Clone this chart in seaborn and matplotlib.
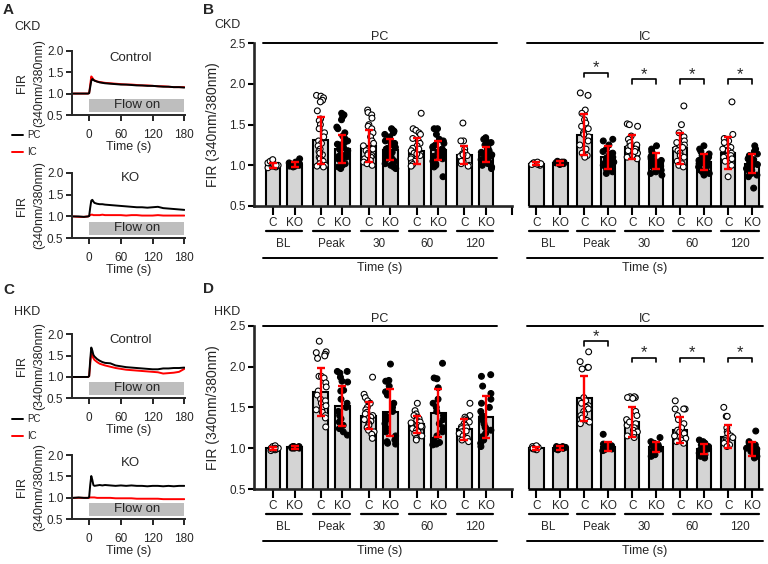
import numpy as np
import pandas as pd
import seaborn as sns
import matplotlib.pyplot as plt
import matplotlib.transforms as mtransforms
from matplotlib.lines import Line2D

sns.set_theme(style="ticks")
plt.rcParams['font.family'] = ['Liberation Sans', 'DejaVu Sans']

# ---------------- traces (A, C) ----------------
t_sec = [-30, -20, -10, -2, 0, 2, 4, 6, 8, 10, 15, 20, 25, 30, 40, 50, 60,
         70, 80, 90, 100, 110, 120, 130, 140, 150, 160, 170, 180]
ckd_ctrl_pc = [1.00, 1.00, 1.00, 1.00, 1.01, 1.15, 1.30, 1.34, 1.32, 1.30, 1.28, 1.26, 1.25, 1.24, 1.23,
               1.22, 1.21, 1.21, 1.20, 1.19, 1.19, 1.18, 1.18, 1.17, 1.16, 1.16, 1.15, 1.15, 1.14]
ckd_ctrl_ic = [1.00, 1.00, 1.00, 1.00, 1.01, 1.20, 1.40, 1.37, 1.33, 1.31, 1.28, 1.27, 1.26, 1.25, 1.24,
               1.23, 1.22, 1.21, 1.21, 1.20, 1.19, 1.19, 1.18, 1.17, 1.17, 1.16, 1.15, 1.15, 1.15]
ckd_ko_pc = [1.00, 1.00, 0.99, 1.00, 1.01, 1.20, 1.36, 1.38, 1.34, 1.31, 1.29, 1.28, 1.28, 1.27, 1.26,
             1.25, 1.24, 1.23, 1.22, 1.21, 1.21, 1.20, 1.21, 1.22, 1.19, 1.18, 1.17, 1.16, 1.15]
ckd_ko_ic = [1.00, 0.99, 0.99, 1.00, 1.01, 1.03, 1.04, 1.04, 1.03, 1.03, 1.03, 1.03, 1.04, 1.03, 1.03,
             1.03, 1.03, 1.02, 1.03, 1.03, 1.02, 1.02, 1.02, 1.03, 1.02, 1.02, 1.02, 1.02, 1.02]
hkd_ctrl_pc = [1.00, 1.00, 1.00, 1.00, 1.02, 1.40, 1.69, 1.62, 1.52, 1.48, 1.42, 1.38, 1.35, 1.33, 1.32,
               1.27, 1.25, 1.23, 1.22, 1.21, 1.20, 1.19, 1.18, 1.18, 1.20, 1.20, 1.21, 1.21, 1.22]
hkd_ctrl_ic = [1.00, 1.00, 1.00, 1.00, 1.02, 1.30, 1.56, 1.50, 1.44, 1.40, 1.35, 1.31, 1.29, 1.27, 1.24,
               1.21, 1.19, 1.17, 1.16, 1.15, 1.14, 1.13, 1.12, 1.11, 1.08, 1.09, 1.10, 1.12, 1.19]
hkd_ko_pc = [1.00, 1.01, 1.00, 1.00, 1.02, 1.30, 1.51, 1.42, 1.30, 1.28, 1.29, 1.30, 1.29, 1.30, 1.29,
             1.28, 1.29, 1.28, 1.29, 1.28, 1.28, 1.27, 1.28, 1.28, 1.27, 1.28, 1.27, 1.28, 1.28]
hkd_ko_ic = [1.00, 1.00, 1.00, 1.00, 1.00, 1.01, 1.01, 1.01, 1.01, 1.01, 1.00, 1.00, 1.00, 1.00, 1.00,
             0.99, 0.99, 0.99, 0.99, 0.98, 0.98, 0.98, 0.98, 0.98, 0.97, 0.97, 0.97, 0.97, 0.97]
flow_on = [0, 180]
flow_box = [0.58, 0.88]

# ---------------- bars (B, D) ----------------
time_groups = ['BL', 'Peak', '30', '60', '120']
genos = ['C', 'KO']
cells = ['PC', 'IC']
# order: BL C, BL KO, Peak C, Peak KO, 30 C, 30 KO, 60 C, 60 KO, 120 C, 120 KO
ckd_pc_mean = [1.00, 1.01, 1.31, 1.20, 1.24, 1.19, 1.18, 1.185, 1.13, 1.13]
ckd_pc_sd = [0.03, 0.03, 0.29, 0.17, 0.20, 0.13, 0.16, 0.115, 0.11, 0.09]
ckd_ic_mean = [1.02, 1.03, 1.375, 1.10, 1.225, 1.05, 1.21, 1.04, 1.15, 1.02]
ckd_ic_sd = [0.015, 0.02, 0.25, 0.14, 0.145, 0.10, 0.19, 0.10, 0.20, 0.12]
hkd_pc_mean = [1.00, 1.01, 1.69, 1.52, 1.40, 1.44, 1.29, 1.43, 1.23, 1.385]
hkd_pc_sd = [0.02, 0.015, 0.29, 0.245, 0.17, 0.29, 0.11, 0.29, 0.125, 0.255]
hkd_ic_mean = [1.00, 1.00, 1.61, 1.02, 1.32, 1.01, 1.22, 0.99, 1.14, 0.99]
hkd_ic_sd = [0.02, 0.025, 0.28, 0.05, 0.18, 0.06, 0.16, 0.065, 0.14, 0.08]

ckd_pc_pts = [
    [0.97, 0.98, 0.99, 1.00, 1.00, 1.01, 1.02, 1.03, 1.05, 1.07, 0.99, 1.00],
    [0.98, 0.99, 1.00, 1.00, 1.01, 1.01, 1.02, 1.03, 1.04, 1.08, 1.00, 0.99, 1.02],
    [1.86, 1.85, 1.83, 1.80, 1.78, 1.67, 1.57, 1.55, 1.50, 1.45, 1.40, 1.35, 1.30, 1.27, 1.24, 1.20,
     1.17, 1.13, 1.10, 1.08, 1.05, 1.02, 1.00, 0.99, 0.98, 1.15],
    [1.64, 1.62, 1.60, 1.56, 1.47, 1.45, 1.40, 1.36, 1.33, 1.30, 1.28, 1.26, 1.24, 1.22, 1.20, 1.18,
     1.16, 1.14, 1.12, 1.10, 1.08, 1.06, 1.04, 1.02, 1.00, 0.98, 0.96, 1.25, 1.19, 1.11],
    [1.68, 1.65, 1.62, 1.58, 1.50, 1.48, 1.45, 1.40, 1.35, 1.30, 1.27, 1.24, 1.20, 1.18, 1.15, 1.12,
     1.10, 1.08, 1.06, 1.04, 1.02, 1.00, 1.13],
    [1.45, 1.43, 1.42, 1.40, 1.38, 1.35, 1.32, 1.30, 1.28, 1.26, 1.24, 1.22, 1.20, 1.18, 1.16, 1.14,
     1.12, 1.10, 1.08, 1.06, 1.04, 1.02, 1.00, 0.98, 0.96, 1.21, 1.15, 1.27],
    [1.64, 1.45, 1.43, 1.40, 1.38, 1.33, 1.30, 1.27, 1.24, 1.21, 1.18, 1.15, 1.12, 1.10, 1.08, 1.05,
     1.03, 1.01, 0.99, 1.14, 1.20],
    [1.45, 1.45, 1.38, 1.32, 1.30, 1.27, 1.25, 1.22, 1.20, 1.18, 1.16, 1.14, 1.12, 1.10, 1.08, 1.05,
     1.02, 1.00, 0.98, 0.86, 1.23, 1.15, 1.11],
    [1.52, 1.30, 1.30, 1.20, 1.16, 1.14, 1.12, 1.10, 1.08, 1.06, 1.04, 1.02, 1.00, 0.99, 1.11, 1.13, 1.05],
    [1.34, 1.32, 1.30, 1.28, 1.25, 1.22, 1.20, 1.18, 1.16, 1.14, 1.12, 1.10, 1.08, 1.06, 1.04, 1.02,
     1.00, 0.98, 0.96, 1.15, 1.11, 1.07, 1.13],
]
ckd_ic_pts = [
    [1.00, 1.01, 1.02, 1.02, 1.03, 1.03, 1.04, 1.01, 1.02],
    [1.01, 1.02, 1.03, 1.03, 1.04, 1.04, 1.05, 1.02],
    [1.89, 1.86, 1.68, 1.64, 1.56, 1.52, 1.48, 1.45, 1.40, 1.35, 1.30, 1.25, 1.20, 1.15, 1.12, 1.10, 1.38],
    [1.32, 1.30, 1.25, 1.20, 1.17, 1.14, 1.12, 1.10, 1.08, 1.06, 1.04, 1.02, 1.00, 0.98, 0.96, 0.94,
     0.92, 0.90, 1.15, 1.05, 1.09],
    [1.51, 1.50, 1.48, 1.36, 1.32, 1.28, 1.25, 1.22, 1.20, 1.18, 1.15, 1.12, 1.10, 1.08, 1.24, 1.17],
    [1.24, 1.20, 1.17, 1.15, 1.13, 1.10, 1.08, 1.06, 1.04, 1.02, 1.00, 0.98, 0.96, 0.94, 0.92, 0.90,
     0.88, 1.11, 1.05, 1.01, 0.99],
    [1.73, 1.50, 1.40, 1.35, 1.30, 1.25, 1.22, 1.20, 1.18, 1.15, 1.12, 1.10, 1.05, 1.02, 1.00, 0.98, 1.28],
    [1.24, 1.20, 1.17, 1.14, 1.12, 1.10, 1.08, 1.06, 1.04, 1.02, 1.00, 0.98, 0.96, 0.94, 0.92, 0.90,
     0.88, 1.09, 1.03, 1.01],
    [1.78, 1.38, 1.33, 1.30, 1.25, 1.22, 1.20, 1.18, 1.15, 1.12, 1.10, 1.08, 1.05, 1.00, 0.86, 1.28],
    [1.24, 1.20, 1.17, 1.14, 1.12, 1.10, 1.08, 1.06, 1.04, 1.02, 1.00, 0.98, 0.96, 0.94, 0.92, 0.90,
     0.88, 0.86, 0.72, 1.07, 1.03, 0.99, 1.01],
]
hkd_pc_pts = [
    [0.97, 0.98, 0.99, 1.00, 1.00, 1.01, 1.02, 1.03, 0.99, 1.00],
    [1.00, 1.00, 1.01, 1.01, 1.02, 1.02, 1.01, 1.00, 1.02],
    [2.31, 2.18, 2.17, 2.15, 2.13, 2.10, 1.88, 1.88, 1.86, 1.80, 1.75, 1.70, 1.65, 1.60, 1.55, 1.50,
     1.47, 1.44, 1.40, 1.37, 1.26, 1.58, 1.52],
    [1.94, 1.94, 1.92, 1.87, 1.82, 1.81, 1.71, 1.70, 1.60, 1.55, 1.50, 1.45, 1.40, 1.36, 1.32, 1.28,
     1.24, 1.20, 1.16],
    [1.87, 1.66, 1.62, 1.58, 1.55, 1.50, 1.47, 1.44, 1.42, 1.40, 1.38, 1.36, 1.33, 1.30, 1.28, 1.25,
     1.22, 1.20, 1.17, 1.12, 1.35],
    [2.03, 1.83, 1.82, 1.76, 1.69, 1.65, 1.55, 1.50, 1.45, 1.40, 1.35, 1.30, 1.25, 1.20, 1.15, 1.10,
     1.08, 1.06, 1.05],
    [1.55, 1.46, 1.42, 1.40, 1.38, 1.36, 1.34, 1.32, 1.30, 1.28, 1.26, 1.24, 1.22, 1.20, 1.18, 1.15,
     1.12, 1.10, 1.27, 1.31],
    [2.04, 1.86, 1.85, 1.74, 1.60, 1.55, 1.50, 1.45, 1.40, 1.35, 1.30, 1.25, 1.20, 1.15, 1.10, 1.07,
     1.05, 1.04],
    [1.55, 1.40, 1.38, 1.36, 1.34, 1.32, 1.30, 1.28, 1.26, 1.24, 1.22, 1.20, 1.18, 1.15, 1.12, 1.10,
     1.08, 1.25, 1.21],
    [1.90, 1.88, 1.76, 1.67, 1.60, 1.55, 1.50, 1.45, 1.40, 1.35, 1.30, 1.26, 1.22, 1.18, 1.14, 1.10,
     1.06, 1.02, 1.25],
]
hkd_ic_pts = [
    [0.98, 0.99, 1.00, 1.00, 1.01, 1.01, 1.02, 1.03, 1.00],
    [0.98, 0.99, 1.00, 1.00, 1.01, 1.01, 1.02, 1.02, 1.00],
    [2.18, 2.06, 1.99, 1.99, 1.97, 1.62, 1.58, 1.55, 1.52, 1.50, 1.48, 1.45, 1.42, 1.40, 1.37, 1.34,
     1.32, 1.30],
    [1.17, 1.05, 1.04, 1.03, 1.02, 1.01, 1.00, 0.99, 0.98, 0.97, 1.02, 1.00],
    [1.63, 1.62, 1.63, 1.62, 1.61, 1.45, 1.40, 1.35, 1.30, 1.28, 1.25, 1.22, 1.20, 1.18, 1.15, 1.13, 1.32],
    [1.13, 1.08, 1.06, 1.04, 1.03, 1.02, 1.01, 1.00, 0.99, 0.98, 0.96, 0.94, 0.92, 0.90, 1.01],
    [1.58, 1.48, 1.48, 1.48, 1.40, 1.35, 1.30, 1.25, 1.22, 1.20, 1.18, 1.15, 1.12, 1.10, 1.08, 1.06],
    [1.10, 1.08, 1.06, 1.04, 1.02, 1.00, 0.98, 0.96, 0.94, 0.92, 0.90, 0.88, 0.99, 1.01],
    [1.50, 1.39, 1.39, 1.25, 1.20, 1.18, 1.15, 1.12, 1.10, 1.08, 1.06, 1.04, 1.02, 1.13],
    [1.21, 1.08, 1.06, 1.04, 1.02, 1.00, 0.98, 0.96, 0.94, 0.92, 0.90, 0.88, 0.99, 1.01],
]
ckd_sig_h = [2.14, 2.06, 2.06, 2.06]   # IC: Peak, 30, 60, 120
hkd_sig_h = [2.31, 2.11, 2.11, 2.11]

# layout of the bar axes (x positions in data units)
cell_start = [0.0, 12.1]
pair_step = 2.2
pair_off = [1.0, 1.1]

W, H = 768, 564
fig = plt.figure(figsize=(7.68, 5.64), dpi=100)


def rect(x0, y_top, x1, y_bot):
    return [x0 / W, 1 - y_bot / H, (x1 - x0) / W, (y_bot - y_top) / H]


def draw_trace(ax, pc, ic, title, title_y):
    df = pd.DataFrame({'t': t_sec + t_sec, 'fir': ic + pc,
                       'cell': ['IC'] * len(t_sec) + ['PC'] * len(t_sec)})
    ax.fill_between(flow_on, flow_box[0], flow_box[1], color='#bebebe', lw=0, zorder=0)
    ax.text(np.mean(flow_on), np.mean(flow_box), 'Flow on', ha='center', va='center', fontsize=9.5)
    sns.lineplot(data=df, x='t', y='fir', hue='cell', hue_order=['IC', 'PC'],
                 palette={'PC': 'black', 'IC': 'red'}, lw=1.4, estimator=None,
                 legend=False, ax=ax)
    ax.text(78, title_y, title, ha='center', va='center', fontsize=9.5)
    ax.set_xlim(-33, 182)
    ax.set_ylim(0.5, 2.0)
    ax.set_xticks([0, 60, 120, 180])
    ax.set_yticks([0.5, 1.0, 1.5, 2.0])
    ax.yaxis.set_major_formatter('{x:.1f}')
    sns.despine(ax=ax)
    for s in ['left', 'bottom']:
        ax.spines[s].set_linewidth(1.4)
    ax.tick_params(axis='both', length=4, width=1.2, labelsize=8.5, color='black')
    ax.tick_params(axis='x', pad=6)
    ax.tick_params(axis='y', pad=2)
    ax.set_xlabel('Time (s)', fontsize=9, va='center')
    ax.xaxis.set_label_coords(0.5, -0.49)
    ax.set_ylabel('FIR\n(340nm/380nm)', fontsize=9, va='center', linespacing=1.6)
    ax.yaxis.set_label_coords(-0.36, 0.5)


def draw_bars(ax, pc_mean, pc_sd, ic_mean, ic_sd, pc_pts, ic_pts, sig_h):
    bar_rows, pt_rows = [], []
    means = [pc_mean, ic_mean]
    sds = [pc_sd, ic_sd]
    pts = [pc_pts, ic_pts]
    for k, cell in enumerate(cells):
        for i, g in enumerate(time_groups):
            for j, geno in enumerate(genos):
                idx = 2 * i + j
                pos = round(cell_start[k] + i * pair_step + j * pair_off[k], 3)
                bar_rows.append(dict(cell=cell, group=g, geno=geno, pos=pos,
                                     mean=means[k][idx], sd=sds[k][idx]))
                for v in pts[k][idx]:
                    pt_rows.append(dict(pos=pos, geno=geno, value=v))
    bars = pd.DataFrame(bar_rows)
    points = pd.DataFrame(pt_rows)

    sns.barplot(data=bars, x='pos', y='mean', native_scale=True, width=0.66,
                color='#d4d4d4', saturation=1, edgecolor='black', linewidth=1.5,
                errorbar=None, ax=ax)
    sns.stripplot(data=points, x='pos', y='value', hue='geno', native_scale=True,
                  jitter=0.26, palette={'C': 'white', 'KO': 'black'}, size=4.2,
                  edgecolor='black', linewidth=0.8, legend=False, ax=ax)
    ax.errorbar(bars['pos'], bars['mean'], yerr=bars['sd'], fmt='none', ecolor='#ff0000',
                elinewidth=1.7, capsize=2.8, capthick=1.7, zorder=5)

    xl = (-0.86, 22.5)
    ax.set_xlim(*xl)
    ax.set_ylim(0.5, 2.5)
    ax.set_yticks([0.5, 1.0, 1.5, 2.0, 2.5])
    ax.yaxis.set_major_formatter('{x:.1f}')
    pc_last = bars.loc[bars.cell == 'PC', 'pos'].max()
    ic_first = bars.loc[bars.cell == 'IC', 'pos'].min()
    brk = pc_last + 1.18
    ax.set_xticks(list(bars['pos']) + [brk])
    ax.set_xticklabels(list(bars['geno']) + [''])
    ax.set_xlabel('')
    ax.set_ylabel('FIR (340nm/380nm)', fontsize=10, va='center')
    ax.yaxis.set_label_coords(-0.08, 0.5)
    sns.despine(ax=ax)
    ax.spines['left'].set_linewidth(1.9)
    ax.spines['bottom'].set_linewidth(1.9)
    ax.spines['bottom'].set_bounds(xl[0], brk)
    ax.tick_params(axis='x', length=6.5, width=1.5, pad=1.5, labelsize=8.5, color='black')
    ax.tick_params(axis='y', length=4, width=1.5, pad=2, labelsize=8.5, color='black')

    trans = mtransforms.blended_transform_factory(ax.transData, ax.transAxes)
    ax.plot([ic_first - 0.4, xl[1]], [0, 0], transform=trans, color='black', lw=1.9,
            clip_on=False, solid_capstyle='butt')
    for cell in cells:
        sub = bars[bars.cell == cell]
        x0, x1 = sub['pos'].min() - 0.45, sub['pos'].max() + 0.5
        xm = (x0 + x1) / 2
        for y in [1.0, -0.318]:
            ax.plot([x0, x1], [y, y], transform=trans, color='black', lw=1.4, clip_on=False)
        ax.text(xm, 1.04, cell, transform=trans, ha='center', va='center', fontsize=9)
        ax.text(xm, -0.382, 'Time (s)', transform=trans, ha='center', va='center', fontsize=9)
        for g in time_groups:
            gp = sub[sub.group == g]['pos']
            ax.plot([gp.min() - 0.33, gp.max() + 0.33], [-0.153, -0.153], transform=trans,
                    color='black', lw=1.6, clip_on=False)
            ax.text(gp.mean(), -0.234, g, transform=trans, ha='center', va='center', fontsize=8.5)
    ic_bars = bars[bars.cell == 'IC']
    for g, h in zip(time_groups[1:], sig_h):
        gp = ic_bars[ic_bars.group == g]['pos'].tolist()
        ax.plot([gp[0], gp[0], gp[1], gp[1]], [h - 0.06, h, h, h - 0.06], color='black', lw=1.2)
        ax.text(np.mean(gp), h + 0.005, '*', ha='center', va='baseline', fontsize=12)


np.random.seed(7)

ax_a1 = fig.add_axes(rect(71.7, 50.7, 185.4, 115))
draw_trace(ax_a1, ckd_ctrl_pc, ckd_ctrl_ic, 'Control', 1.82)
ax_a2 = fig.add_axes(rect(71.7, 172.7, 185.4, 238.3))
draw_trace(ax_a2, ckd_ko_pc, ckd_ko_ic, 'KO', 1.87)
ax_c1 = fig.add_axes(rect(71.7, 334.3, 185.4, 398.3))
draw_trace(ax_c1, hkd_ctrl_pc, hkd_ctrl_ic, 'Control', 1.86)
ax_c2 = fig.add_axes(rect(71.7, 455, 185.4, 519.3))
draw_trace(ax_c2, hkd_ko_pc, hkd_ko_ic, 'KO', 1.81)

ax_b = fig.add_axes(rect(254, 43.3, 763, 206))
draw_bars(ax_b, ckd_pc_mean, ckd_pc_sd, ckd_ic_mean, ckd_ic_sd, ckd_pc_pts, ckd_ic_pts, ckd_sig_h)
ax_d = fig.add_axes(rect(254, 325.7, 763, 489))
draw_bars(ax_d, hkd_pc_mean, hkd_pc_sd, hkd_ic_mean, hkd_ic_sd, hkd_pc_pts, hkd_ic_pts, hkd_sig_h)

handles = [Line2D([], [], color='black', lw=1.4), Line2D([], [], color='red', lw=1.4)]
for y_top in [130, 414]:
    fig.legend(handles, ['PC', 'IC'], loc='upper left', bbox_to_anchor=(12 / W, 1 - y_top / H),
               frameon=False, fontsize=7, handlelength=1.1, handletextpad=0.5,
               labelspacing=0.75, borderpad=0, borderaxespad=0)

for letter, sub, x, y_l, y_s in [('A', 'CKD', 3, 10, 27), ('C', 'HKD', 3, 290, 312),
                                  ('B', 'CKD', 203, 10, 25), ('D', 'HKD', 203, 289, 311.7)]:
    fig.text(x / W, 1 - y_l / H, letter, fontsize=11, weight='bold', va='center')
    fig.text((x + 11) / W, 1 - y_s / H, sub, fontsize=9, va='center')

fig.savefig('out.png', dpi=100)
